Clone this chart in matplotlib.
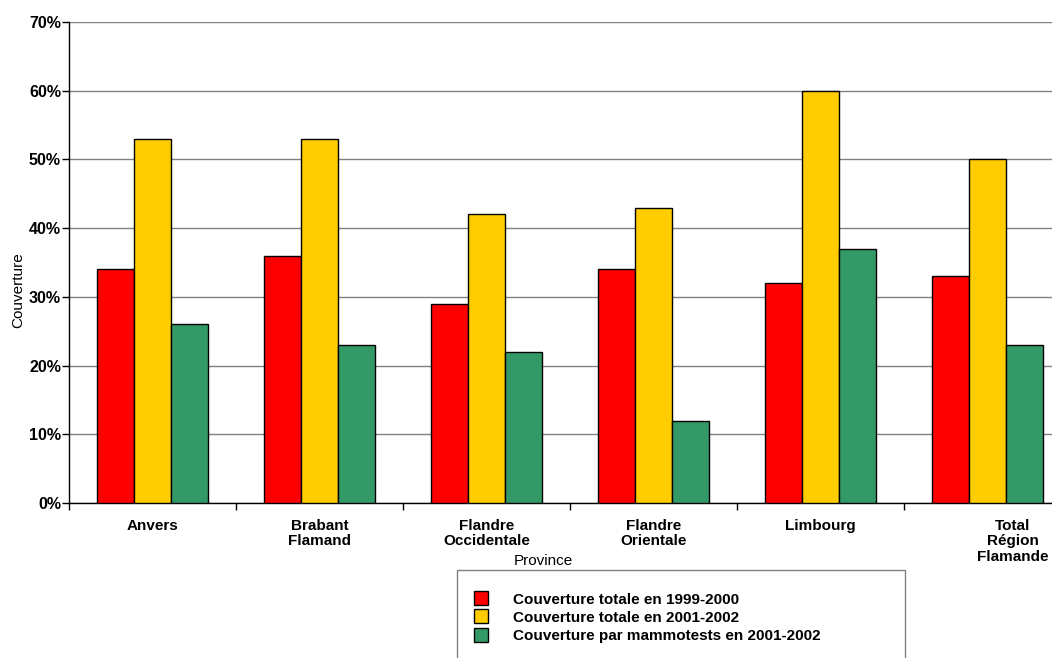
import matplotlib.pyplot as plt
import numpy as np
from matplotlib.lines import Line2D
from matplotlib.patches import Rectangle

plt.rcParams['font.family'] = ['Liberation Sans', 'DejaVu Sans']

provinces = ["Anvers", "Brabant\nFlamand", "Flandre\nOccidentale",
             "Flandre\nOrientale", "Limbourg", "Total\nRégion\nFlamande"]
cov_1999 = [34, 36, 29, 34, 32, 33]
cov_2001 = [53, 53, 42, 43, 60, 50]
cov_mammo = [26, 23, 22, 12, 37, 23]
series_names = ["Couverture totale en 1999-2000",
                "Couverture totale en 2001-2002",
                "Couverture par mammotests en 2001-2002"]
colors = ["#FF0000", "#FFCC00", "#339966"]

W, H = 1052, 658
fig = plt.figure(figsize=(W / 100, H / 100), dpi=100)
ax = fig.add_axes([69 / W, 1 - 503 / H, (1071 - 69) / W, 481 / H])

x = np.arange(len(provinces))
bw = 0.222
for k, vals in enumerate([cov_1999, cov_2001, cov_mammo]):
    ax.bar(x + (k - 1) * bw, vals, bw, color=colors[k], edgecolor='black',
           linewidth=1, zorder=3)

ax.set_xlim(-0.5, len(provinces) - 0.5)
ax.set_ylim(0, 70)
ax.set_yticks(range(0, 71, 10))
ax.set_yticklabels([f"{v}%" for v in range(0, 71, 10)], fontweight='bold', fontsize=11.5)
ax.yaxis.grid(True, color='#808080', linewidth=1, zorder=0)
ax.set_axisbelow(True)

ax.set_xticks(np.arange(len(provinces) + 1) - 0.5)
ax.set_xticklabels([])
ax.tick_params(axis='both', direction='out', length=5, width=1, color='black')
ax.tick_params(axis='y', pad=0.8)
for i, name in enumerate(provinces):
    xo = 0.15 if i == len(provinces) - 1 else 0
    ax.text(i + xo, -2.3, name, ha='center', va='top', fontsize=11,
            fontweight='bold', linespacing=1.15)

for s in ['top', 'right']:
    ax.spines[s].set_visible(False)
for s in ['left', 'bottom']:
    ax.spines[s].set_color('black')
    ax.spines[s].set_linewidth(1)

fig.text(18 / W, 1 - 290 / H, "Couverture", rotation=90, ha='center',
         va='center', fontsize=11)
fig.text(543 / W, 1 - 561 / H, "Province", ha='center', va='center', fontsize=11)

fig.patches.append(Rectangle((457 / W, 1 - 680 / H), (905 - 457) / W, 110 / H,
                             transform=fig.transFigure, facecolor='white',
                             edgecolor='#808080', linewidth=1))
handles = [Line2D([], [], marker='s', linestyle='none', markersize=10,
                  markerfacecolor=c, markeredgecolor='black') for c in colors]
fig.legend(handles, series_names, loc='upper left',
           bbox_to_anchor=(467 / W, 1 - 585 / H), frameon=False,
           prop={'size': 11, 'weight': 'bold'}, handlelength=0.8,
           handletextpad=1.7, labelspacing=0.27, borderpad=0)

fig.savefig("out.png", dpi=100)
